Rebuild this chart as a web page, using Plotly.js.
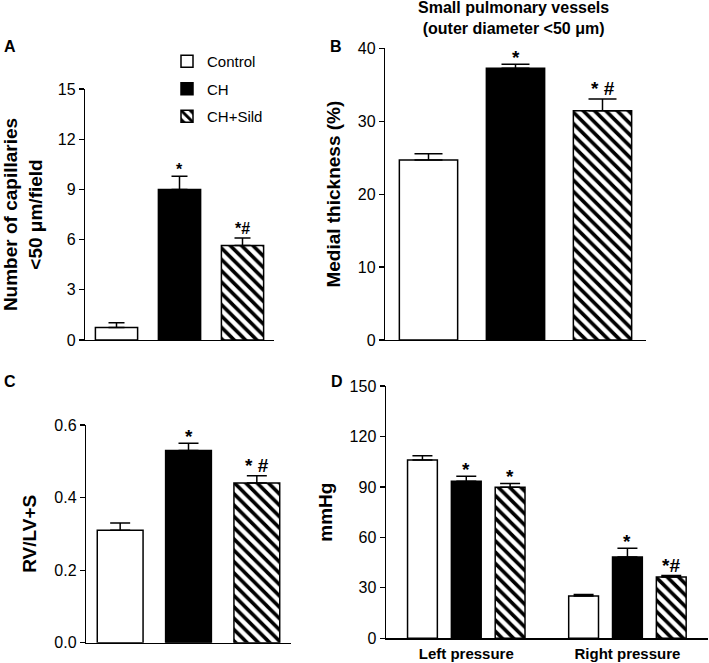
<!DOCTYPE html>
<html>
<head>
<meta charset="utf-8">
<script src="https://cdn.plot.ly/plotly-3.0.1.min.js"></script>
<style>html,body{margin:0;padding:0;background:#fff;}#chart{width:709px;height:663px;}</style>
</head>
<body>
<div id="chart"></div>
<script>
// ---- data ----
const groups = ["Control", "CH", "CH+Sild"];
// Panel A: number of capillaries <50 um / field
const capMean = [0.75, 9.0, 5.65];
const capErr  = [0.28, 0.78, 0.45];
const capSig  = ["", "*", "*#"];
// Panel B: medial thickness (%)
const medialMean = [24.7, 37.25, 31.45];
const medialErr  = [0.85, 0.55, 1.6];
const medialSig  = ["", "*", "* #"];
// Panel C: RV/LV+S
const rvMean = [0.31, 0.53, 0.44];
const rvErr  = [0.02, 0.02, 0.02];
const rvSig  = ["", "*", "* #"];
// Panel D: pressures (mmHg)
const pressureCats = ["Left pressure", "Right pressure"];
const pControl    = [106.0, 25.1];
const pControlErr = [2.5, 1.0];
const pCH         = [93.3, 48.3];
const pCHErr      = [3.0, 5.2];
const pSild       = [89.8, 36.4];
const pSildErr    = [2.3, 0.9];
const pControlSig = ["", ""];
const pCHSig      = ["*", "*"];
const pSildSig    = ["*", "*#"];

// ---- styles ----
const FONT = "Liberation Sans, Arial, Helvetica, sans-serif";
const styles = [
  {color: "white", pattern: {shape: ""}},
  {color: "black", pattern: {shape: ""}},
  {color: "white", pattern: {shape: "\\", fgcolor: "black", bgcolor: "white", size: 8, solidity: 0.45}}
];
const W = 709, H = 663;
function xd(a, b) { return [a / W, b / W]; }
function yd(top, bottom) { return [1 - bottom / H, 1 - top / H]; }

const traces = [];
const annotations = [];

function sigAnn(xa, ya, x, y, text, size, shiftStar, shiftHash) {
  annotations.push({
    xref: xa, yref: ya, x: x, y: y, text: "<b>" + text + "</b>",
    showarrow: false, yanchor: "bottom", yshift: text.indexOf("#") >= 0 ? shiftHash : shiftStar,
    font: {family: FONT, size: size, color: "black"}
  });
}

function simplePanel(xa, ya, means, errs, sigs, capw, showLegend, sigSize, s1, s2) {
  groups.forEach((g, i) => {
    traces.push({
      type: "bar", x: [g], y: [means[i]], name: g,
      xaxis: xa, yaxis: ya, offsetgroup: xa, width: 0.67,
      showlegend: showLegend, legendgroup: showLegend ? "lg" + i : undefined,
      marker: {color: styles[i].color, pattern: styles[i].pattern, line: {color: "black", width: 1.5}},
      error_y: {type: "data", symmetric: false, array: [errs[i]], arrayminus: [0], color: "black", thickness: 1.5, width: capw},
      hoverinfo: "skip"
    });
    if (sigs[i]) sigAnn(xa, ya, g, means[i] + errs[i], sigs[i], sigSize, s1, s2);
  });
}

simplePanel("x", "y", capMean, capErr, capSig, 8, true, 16, -4, -1);
simplePanel("x2", "y2", medialMean, medialErr, medialSig, 14, false, 19, -6, -2);
simplePanel("x3", "y3", rvMean, rvErr, rvSig, 10, false, 19, -6, -2);

// Panel D grouped
const dMeans = [pControl, pCH, pSild];
const dErrs = [pControlErr, pCHErr, pSildErr];
const dSigs = [pControlSig, pCHSig, pSildSig];
const BARGAP = 0.184;
const slot = (1 - BARGAP) / 3;
groups.forEach((g, i) => {
  traces.push({
    type: "bar", x: pressureCats, y: dMeans[i], name: g,
    xaxis: "x4", yaxis: "y4", offsetgroup: "d" + i, showlegend: false,
    marker: {color: styles[i].color, pattern: styles[i].pattern, line: {color: "black", width: 1.5}},
    error_y: {type: "data", symmetric: false, array: dErrs[i], arrayminus: [0, 0], color: "black", thickness: 1.5, width: 10},
    hoverinfo: "skip"
  });
  pressureCats.forEach((c, j) => {
    if (dSigs[i][j]) sigAnn("x4", "y4", j + (i - 1) * slot, dMeans[i][j] + dErrs[i][j], dSigs[i][j], 19, -6, -2);
  });
});

// panel letters
[["A", 10, 47], ["B", 336, 47], ["C", 10, 382], ["D", 337, 382]].forEach(p => {
  annotations.push({xref: "paper", yref: "paper", x: p[1] / W, y: 1 - p[2] / H, text: "<b>" + p[0] + "</b>",
    showarrow: false, xanchor: "center", yanchor: "middle", font: {family: FONT, size: 16, color: "black"}});
});

// panel B heading
annotations.push({
  xref: "paper", yref: "paper", x: 513 / W, y: 1, yshift: 3, xanchor: "center", yanchor: "top",
  text: "<b>Small pulmonary vessels</b><br><b>(outer diameter &lt;50 μm)</b>",
  showarrow: false, align: "center", font: {family: FONT, size: 16, color: "black"}
});

function yaxis(domain, anchor, range, dtick, title, standoff) {
  return {
    domain: domain, anchor: anchor, range: range, dtick: dtick, tick0: 0,
    ticks: "outside", ticklen: 5, tickwidth: 1.2, tickcolor: "black",
    showline: true, linecolor: "black", linewidth: 1.2,
    showgrid: false, zeroline: false, fixedrange: true,
    tickfont: {family: FONT, size: 16, color: "black"},
    title: {text: title, font: {family: FONT, size: 19, color: "black", weight: "bold"}, standoff: standoff}
  };
}
function xaxis(domain, anchor, range, showLabels) {
  return {
    domain: domain, anchor: anchor, range: range, type: "category",
    showline: true, linecolor: "black", linewidth: 1.2, ticks: "",
    showgrid: false, zeroline: false, fixedrange: true,
    showticklabels: showLabels, ticklabelstandoff: 1,
    tickfont: {family: FONT, size: 15, color: "black", weight: "bold"}
  };
}

const layout = {
  width: W, height: H,
  margin: {l: 0, r: 0, t: 0, b: 0},
  paper_bgcolor: "white", plot_bgcolor: "white",
  font: {family: FONT, color: "black"},
  barmode: "group", bargap: BARGAP, bargroupgap: 0.32,
  showlegend: true,
  legend: {
    x: 167 / W, y: 1 - 45 / H, xanchor: "left", yanchor: "top",
    bgcolor: "rgba(0,0,0,0)", borderwidth: 0,
    traceorder: "grouped", tracegroupgap: 5,
    font: {family: FONT, size: 15, color: "black"}
  },
  xaxis: xaxis(xd(85, 274), "y", [-0.5, 2.5], false),
  yaxis: yaxis(yd(89, 340), "x", [0, 15], 3, "Number of capillaries<br>&lt;50 μm/field", 12),
  xaxis2: xaxis(xd(385, 646), "y2", [-0.5, 2.5], false),
  yaxis2: yaxis(yd(48.3, 340), "x2", [0, 40], 10, "Medial thickness (%)", 12),
  xaxis3: xaxis(xd(86, 291), "y3", [-0.5, 2.5], false),
  yaxis3: yaxis(yd(425, 642.7), "x3", [0, 0.6], 0.2, "RV/LV+S", 12),
  xaxis4: xaxis(xd(385.7, 708), "y4", [-0.5, 1.5], true),
  yaxis4: yaxis(yd(386, 638.3), "x4", [0, 150], 30, "mmHg", 12),
  annotations: annotations
};
layout.yaxis3.tickformat = ".1f";

Plotly.newPlot("chart", traces, layout, {displayModeBar: false, staticPlot: true});
</script>
</body>
</html>
